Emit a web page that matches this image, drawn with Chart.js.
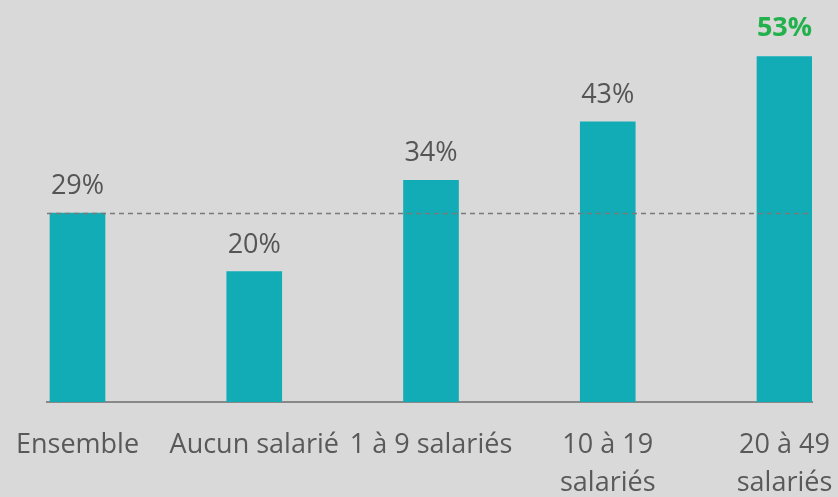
<!DOCTYPE html>
<html>
<head>
<meta charset="utf-8">
<script src="https://cdn.jsdelivr.net/npm/chart.js@4"></script>
<style>
  html, body { margin: 0; padding: 0; background: #d9d9d9; overflow: hidden; }
  #wrap { width: 838px; height: 497px; }
</style>
</head>
<body>
<div id="wrap"><canvas id="chart"></canvas></div>
<script>
// ── Data ──────────────────────────────────────────────────────────────────────
const categories = [
  ["Ensemble"],
  ["Aucun salarié"],
  ["1 à 9 salariés"],
  ["10 à 19", "salariés"],
  ["20 à 49", "salariés"],
];
const shares = [29, 20, 34, 43, 53];
const referenceValue = 29;       // dashed line = "Ensemble"
const highlightIndex = 4;        // label drawn in green

// ── Plugins ───────────────────────────────────────────────────────────────────
const barLabels = {
  id: "barLabels",
  afterDatasetsDraw(chart) {
    const ctx = chart.ctx;
    const meta = chart.getDatasetMeta(0);
    ctx.save();
    ctx.textAlign = "center";
    ctx.textBaseline = "alphabetic";
    meta.data.forEach((bar, i) => {
      const hi = i === highlightIndex;
      ctx.font = (hi ? "bold " : "") + "27px 'Open Sans'";
      ctx.fillStyle = hi ? "#22b14c" : "#555555";
      ctx.fillText(shares[i] + "%", bar.x, bar.y - (hi ? 21 : 19));
    });
    ctx.restore();
  },
};

const refLine = {
  id: "refLine",
  afterDatasetsDraw(chart) {
    const { ctx, chartArea, scales } = chart;
    const y = Math.round(scales.y.getPixelForValue(referenceValue)) + 0.5;
    ctx.save();
    ctx.strokeStyle = "#7a7a7a";
    ctx.lineWidth = 1.5;
    ctx.setLineDash([5, 4]);
    ctx.beginPath();
    ctx.moveTo(chartArea.left, y);
    ctx.lineTo(chartArea.right, y);
    ctx.stroke();
    ctx.restore();
  },
};

// ── Chart ─────────────────────────────────────────────────────────────────────
new Chart(document.getElementById("chart"), {
  type: "bar",
  data: {
    datasets: [{
      data: shares.map((v, i) => ({ x: i, y: v })),
      backgroundColor: "#12acb6",
      barThickness: 55,
      borderWidth: 0,
    }],
  },
  options: {
    responsive: true,
    maintainAspectRatio: false,
    animation: false,
    layout: { padding: { left: 47, right: 26, top: 11, bottom: 0 } },
    plugins: { legend: { display: false }, tooltip: { enabled: false } },
    scales: {
      x: {
        type: "linear",
        offset: false,
        min: -0.1726,
        max: 4.1556,
        grid: { display: false, offset: false },
        border: { display: true, color: "#888888", width: 2 },
        afterFit(scale) {
          scale.height = 95;
          scale.paddingLeft = 0;
          scale.paddingRight = 0;
        },
        ticks: {
          stepSize: 1,
          includeBounds: false,
          autoSkip: false,
          maxRotation: 0,
          padding: 16,
          color: "#595959",
          font: { family: "'Open Sans'", size: 27, lineHeight: 1.41 },
          callback: v => categories[v] || "",
        },
      },
      y: {
        display: false,
        min: 0,
        max: 60,
      },
    },
  },
  plugins: [barLabels, refLine],
});
</script>
</body>
</html>
